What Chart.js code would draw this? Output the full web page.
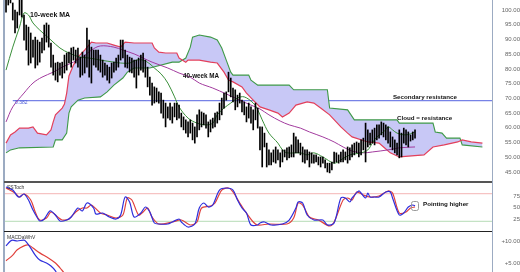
<!DOCTYPE html>
<html>
<head>
<meta charset="utf-8">
<script src="https://cdn.jsdelivr.net/npm/chart.js@4.4.1/dist/chart.umd.min.js"></script>
<style>
  html, body { margin: 0; padding: 0; background: #fff; }
  #wrap { position: relative; width: 520px; height: 272px; overflow: hidden; background: #fff; }
  .pane { position: absolute; left: 0; width: 520px; }
  .rule { position: absolute; }
</style>
</head>
<body>
<div id="wrap">
  <div class="pane" style="top:0;height:182px"><canvas id="price"></canvas></div>
  <div class="pane" style="top:183px;height:49px"><canvas id="stoch"></canvas></div>
  <div class="pane" style="top:233px;height:39px"><canvas id="macd"></canvas></div>
  <div class="rule" style="left:3px;top:0;width:2px;height:272px;background:#9cabc2"></div>
  <div class="rule" style="left:492px;top:0;width:1px;height:272px;background:#9cabc2"></div>
  <div class="rule" style="left:4px;top:181px;width:488px;height:2px;background:#555"></div>
  <div class="rule" style="left:4px;top:231px;width:488px;height:1px;background:#222"></div>
</div>
<script>
// weekly bars, week index 0 = first bar on the left
const barHigh = [
  106, 106, 106, 102.4, 100.0, 99.3, 106, 106, 98.3, 94.9,
  94.2, 92.2, 89.8, 90.8, 89.8, 89.1, 90.5, 94.9, 95.6, 94.9,
  88.8, 84.7, 82.0, 82.3, 82.0, 82.3, 84.7, 85.4, 85.7, 87.1,
  87.4, 86.4, 87.1, 84.0, 85.7, 84.7, 93.9, 89.8, 87.4, 86.4,
  86.4, 86.4, 84.7, 83.0, 82.0, 81.3, 80.6, 82.0, 82.3, 83.7,
  84.7, 89.8, 89.8, 86.4, 84.7, 84.0, 83.7, 83.0, 83.0, 83.7,
  84.7, 85.4, 83.0, 80.6, 77.2, 75.2, 73.9, 73.5, 72.2, 71.8,
  69.4, 68.4, 67.1, 68.4, 67.1, 68.4, 68.4, 67.7, 65.0, 63.7,
  62.7, 62.0, 62.7, 61.6, 60.3, 64.4, 66.1, 65.4, 65.0, 64.4,
  62.0, 62.7, 63.3, 65.0, 65.4, 68.4, 70.1, 71.8, 72.2, 78.9,
  76.9, 73.5, 72.9, 71.1, 71.8, 69.4, 68.8, 67.1, 68.4, 67.1,
  66.1, 68.4, 66.7,
  60.3, 60.3, 58.2, 54.8, 52.5, 51.5, 52.5, 53.5, 52.5, 51.5,
  52.5, 52.5, 53.2, 53.5, 54.2, 58.2, 56.9, 55.9, 54.8, 53.5,
  52.5, 52.5, 51.8, 51.5, 50.8, 50.8, 50.1, 50.1, 50.1, 49.1,
  48.0, 48.0, 48.4, 51.8, 51.5, 50.8, 51.8, 52.5, 51.8, 53.5,
  53.2, 54.2, 54.8, 55.2, 54.8, 55.9, 56.5, 61.6, 59.3, 58.2,
  59.3, 59.9, 61.0, 61.0, 62.0, 61.6, 61.0, 60.3, 58.6, 56.9,
  55.9, 54.8, 59.3, 58.2, 59.9, 59.3, 58.6, 57.6, 58.6, 59.3
];
const barLow = [
  99.3, 101.7, 102.4, 96.6, 92.2, 93.9, 98.3, 97.6, 89.8, 86.4,
  81.3, 82.0, 84.0, 80.3, 81.3, 82.3, 85.4, 86.4, 89.1, 87.4,
  80.6, 77.9, 76.2, 75.6, 77.9, 76.9, 78.6, 79.6, 82.0, 80.6,
  83.0, 82.0, 80.6, 77.2, 77.9, 78.6, 80.6, 77.2, 75.2, 81.3,
  80.6, 79.6, 78.9, 77.2, 77.9, 76.2, 75.2, 76.9, 78.9, 79.6,
  80.6, 83.0, 83.7, 80.6, 80.3, 78.9, 78.6, 77.2, 73.5, 77.9,
  79.6, 78.9, 77.2, 73.9, 71.1, 67.7, 68.4, 68.8, 68.4, 65.0,
  63.3, 60.3, 63.3, 62.7, 61.6, 63.7, 62.7, 63.3, 60.3, 59.3,
  58.2, 56.9, 58.2, 55.9, 54.8, 56.9, 59.3, 60.3, 61.0, 59.9,
  56.9, 58.6, 59.9, 60.3, 61.6, 62.7, 64.4, 66.7, 69.4, 72.2,
  70.5, 68.8, 66.1, 67.1, 68.4, 65.4, 64.4, 62.0, 63.3, 61.6,
  59.3, 62.7, 59.9,
  52.5, 46.7, 53.5, 46.7, 47.4, 47.4, 48.4, 48.0, 49.1, 46.7,
  48.4, 50.1, 49.1, 49.8, 50.1, 50.1, 51.5, 51.5, 50.8, 48.4,
  48.0, 49.1, 46.7, 48.0, 48.0, 48.4, 47.4, 46.7, 48.0, 46.4,
  45.0, 44.7, 45.7, 48.0, 48.4, 48.0, 48.4, 48.4, 49.1, 48.0,
  49.1, 50.1, 50.8, 51.5, 50.1, 50.8, 52.5, 48.4, 53.5, 54.2,
  54.8, 54.2, 55.9, 56.5, 57.6, 56.9, 55.9, 54.8, 53.5, 52.5,
  51.5, 50.8, 49.8, 50.1, 54.8, 54.2, 53.5, 55.5, 55.9, 56.5
];

// [week, value]
const ma10 = [[0,79.6],[3,87.4],[6,94.2],[8,99.0],[10,98.3],[12,95.6],[15,93.2],[20,89.8],[24,87.1],[28,85.4],[33,84.0],[37,83.7],[42,83.0],[48,82.3],[51,82.0],[55,82.0],[58,83.0],[61,83.0],[64,81.7],[66,80.3],[69,78.3],[72,75.2],[75,70.5],[77,67.1],[81,63.3],[85,61.6],[89,61.0],[92,61.6],[94,64.4],[97,66.7],[100,68.4],[103,70.1],[106,70.5],[110,68.4],[112,66.1],[114,62.7],[117,58.2],[121,54.8],[123,52.5],[125,51.5],[131,51.5],[134,50.8],[137,51.5],[141,50.1],[146,48.0],[149,49.1],[153,50.8],[158,51.5],[161,52.5],[163,54.8],[165,56.9],[168,58.6],[170,60.3],[172,59.3],[174,58.2],[178,57.6],[182,58.6]];
const ma40 = [[0,62.0],[3,67.1],[8,71.8],[12,75.2],[16,77.2],[21,78.9],[25,80.6],[30,82.3],[34,84.0],[38,86.4],[42,87.8],[48,87.4],[52,86.4],[57,85.1],[61,83.7],[65,82.3],[72,80.3],[77,78.6],[82,77.2],[86,75.2],[92,73.5],[98,71.5],[104,69.4],[109,67.7],[113,66.4],[117,64.4],[122,62.3],[126,61.0],[131,59.9],[135,58.6],[141,56.9],[146,55.2],[150,53.5],[154,52.1],[159,51.5],[163,51.8],[170,52.5],[175,53.2],[182,53.5]];
const spanA = [[0,54.8],[2,57.6],[4,58.6],[6,59.9],[10,59.9],[12,60.3],[14,58.2],[18,57.6],[20,59.3],[21,62.0],[22,64.4],[25,66.7],[26,68.1],[27,71.8],[28,77.6],[30,81.3],[32,84.0],[35,86.4],[38,89.1],[40,88.8],[45,88.8],[48,88.1],[51,87.4],[53,89.1],[57,88.8],[65,88.8],[66,87.1],[68,85.7],[71,85.4],[76,85.4],[77,83.7],[80,82.3],[81,83.0],[86,83.0],[91,82.3],[94,82.0],[97,78.9],[99,76.2],[101,75.6],[105,73.9],[107,71.8],[110,69.4],[113,67.1],[117,66.1],[121,65.0],[123,63.7],[126,65.0],[129,67.7],[134,68.8],[137,68.4],[140,66.7],[144,64.4],[149,60.3],[152,58.2],[154,56.9],[161,55.2],[166,54.8],[168,53.5],[171,51.5],[175,50.1],[186,50.8],[190,53.5],[195,54.2],[201,55.2],[203,55.9],[207,55.2],[212,54.8]];
const spanB = [[0,51.5],[2,52.5],[6,53.2],[21,53.5],[22,55.9],[25,55.9],[27,58.2],[28,65.0],[29,67.1],[32,69.4],[35,70.1],[42,70.5],[45,72.2],[48,74.5],[52,76.9],[54,78.9],[57,80.3],[64,80.3],[74,82.3],[77,82.3],[80,83.7],[82,87.4],[83,90.8],[86,91.5],[91,90.8],[94,89.8],[96,87.1],[98,83.0],[100,78.9],[101,77.9],[108,77.9],[109,76.2],[112,74.5],[126,74.5],[128,72.9],[143,72.9],[144,66.7],[152,66.1],[155,62.7],[174,62.7],[175,61.6],[190,61.6],[191,58.6],[194,58.2],[196,56.5],[202,56.5],[203,54.2],[212,53.5]];
const fibLevel = 69.2;
const fibStart = 3;

const stochK = [[0,94.6],[3,88],[5,75],[6,72.8],[8,79.3],[10,66.3],[12,44.6],[14,27.2],[15,20.7],[17,25],[19,40.2],[20,42.4],[22,33.7],[24,20.7],[27,22.8],[29,29.3],[32,48.9],[34,42.4],[36,59.8],[39,48.9],[40,35.9],[43,38],[46,29.3],[49,25],[51,33.7],[53,72.8],[55,62],[57,29.3],[60,38],[62,51.1],[64,40.2],[66,16.3],[68,14.1],[72,14.1],[74,18.5],[77,25],[78,18.5],[81,7.6],[84,14.1],[86,48.9],[88,59.8],[90,51.1],[92,55.4],[95,88],[98,92.4],[101,88],[103,66.3],[105,48.9],[107,38],[109,12],[112,12],[113,16.3],[115,18.5],[118,12],[123,14.1],[126,22.8],[129,48.9],[130,62],[132,59.8],[134,33.7],[137,22.8],[141,22.8],[143,12],[146,16.3],[149,70.7],[151,70.7],[153,62],[154,70.7],[157,85.9],[158,81.5],[160,70.7],[161,81.5],[162,72.8],[164,72.8],[166,72.8],[169,83.7],[171,83.7],[172,70.7],[175,33.7],[177,38],[179,51.1],[181,55.4],[182,53.3]];
const stochD = [[0,92.4],[4,81.5],[6,72.8],[8,79.3],[11,66.3],[13,40.2],[15,22.8],[18,27.2],[20,40.2],[23,29.3],[25,22.8],[28,25],[31,40.2],[34,48.9],[36,48.9],[38,55.4],[42,38],[45,33.7],[49,27.2],[52,33.7],[54,70.7],[56,66.3],[59,33.7],[61,40.2],[63,48.9],[65,29.3],[68,14.1],[74,18.5],[78,22.8],[82,12],[85,18.5],[87,48.9],[91,53.3],[93,59.8],[96,88],[99,92.4],[101,83.7],[104,59.8],[106,44.6],[110,18.5],[112,12],[117,14.1],[125,14.1],[128,27.2],[130,59.8],[132,55.4],[135,29.3],[139,22.8],[144,9.8],[146,18.5],[150,66.3],[152,70.7],[154,66.3],[156,83.7],[159,77.2],[162,72.8],[166,75],[170,85.9],[172,81.5],[175,38],[178,40.2],[180,48.9],[182,51.1]];
const stochBands = [80, 20];

const macdLine = [[0,8.9],[2,10],[3,10.2],[5,10],[8,10.2],[9,9.8],[11,8.4],[13,6.8],[15,5.7],[18,5.0],[20,4.3],[22,3.2],[23,2.0]];
const macdSignal = [[0,5.5],[3,6.8],[5,8.0],[8,8.9],[10,9.1],[12,8.4],[15,7.3],[19,6.1],[22,5.0],[24,3.9],[26,2.7],[28,2.0]];

const priceTicks = [45, 50, 55, 60, 65, 70, 75, 80, 85, 90, 95, 100];
const stochTicks = [25, 50, 75];
const macdTicks = [5, 10];

// visible week range of the panes
const X_MIN = -0.9, X_MAX = 216.7;

const pts = arr => arr.map(([x, y]) => ({ x, y }));
const bold = size => `bold ${size}px "Liberation Sans", Arial, sans-serif`;

function notes(items, extra) {
  return {
    id: 'notes',
    afterDraw(chart) {
      const { ctx, scales: { x, y } } = chart;
      ctx.save();
      if (extra) extra(chart, ctx);
      items.forEach(n => {
        ctx.font = n.font;
        ctx.fillStyle = n.color || '#111';
        ctx.textAlign = 'left';
        ctx.textBaseline = 'middle';
        ctx.fillText(n.text, x.getPixelForValue(n.x), y.getPixelForValue(n.y));
      });
      ctx.restore();
    }
  };
}

function paneLabel(text) {
  return (chart, ctx) => {
    ctx.font = '5px "Liberation Sans", Arial, sans-serif';
    ctx.fillStyle = '#333';
    ctx.textAlign = 'left';
    ctx.textBaseline = 'top';
    ctx.fillText(text, chart.chartArea.left + 3, chart.chartArea.top + 2);
  };
}

function options(yMin, yMax, ticks, pad, fmt) {
  return {
    responsive: true,
    maintainAspectRatio: false,
    animation: false,
    events: [],
    layout: { padding: { left: 4, right: 0, top: 0, bottom: 0 } },
    plugins: { legend: { display: false }, tooltip: { enabled: false } },
    elements: { point: { radius: 0 } },
    scales: {
      x: { type: 'linear', min: X_MIN, max: X_MAX, offset: false, display: false },
      y: {
        position: 'right', min: yMin, max: yMax,
        grid: { display: false, drawTicks: false },
        border: { display: false },
        afterBuildTicks: a => { a.ticks = ticks.map(v => ({ value: v })); },
        afterFit: a => { a.width = 27; a.paddingTop = 0; a.paddingBottom = 0; },
        ticks: {
          autoSkip: false, padding: pad, crossAlign: 'far', color: '#666',
          font: { family: '"Liberation Sans", Arial, sans-serif', size: 6 },
          callback: fmt
        }
      }
    }
  };
}

const line = (data, color, width, tension, extra) => Object.assign({
  type: 'line', data: pts(data), borderColor: color, borderWidth: width,
  tension, fill: false, pointRadius: 0, order: 1
}, extra || {});

new Chart(document.getElementById('price'), {
  type: 'bar',
  data: {
    datasets: [
      {
        type: 'bar', order: 0,
        data: barLow.map((lo, i) => ({ x: i, y: [lo, barHigh[i]] })),
        backgroundColor: '#000', borderWidth: 0, barThickness: 1, grouped: false
      },
      line(ma10, '#3a8f3a', 1, 0.35),
      line(ma40, '#a23b9e', 1, 0.35),
      line(spanA, '#e3405c', 1.2, 0, { order: 2 }),
      line(spanB, '#3f9a48', 1.1, 0, { order: 2, fill: 3, backgroundColor: '#c8c8f6' }),
      line([[fibStart, fibLevel], [X_MAX, fibLevel]], '#5563e0', 1, 0, { order: 3 })
    ]
  },
  options: options(41.6, 103.4, priceTicks, 4, v => v.toFixed(2)),
  plugins: [notes([
    { text: '10-week MA', x: 10.7, y: 98.3, font: bold(7) },
    { text: '40-week MA', x: 78.8, y: 77.6, font: bold(6.3) },
    { text: 'Secondary resistance', x: 172.2, y: 70.3, font: bold(6.2) },
    { text: 'Cloud = resistance', x: 174, y: 63.1, font: bold(6.2) },
    { text: '0.382', x: 4, y: 68.6, font: '5px "Liberation Sans", Arial, sans-serif', color: '#4a5ad8' }
  ])]
});

new Chart(document.getElementById('stoch'), {
  type: 'line',
  data: {
    datasets: [
      line([[X_MIN, stochBands[0]], [X_MAX, stochBands[0]]], '#f4b4b4', 1, 0, { order: 3 }),
      line([[X_MIN, stochBands[1]], [X_MAX, stochBands[1]]], '#b6dbb6', 1, 0, { order: 3 }),
      line(stochD, '#e0403c', 1.2, 0.3, { order: 1 }),
      line(stochK, '#2f2fdc', 1.2, 0.3, { order: 0 })
    ]
  },
  options: options(-3.26, 103.3, stochTicks, 8, v => String(v)),
  plugins: [notes([
    { text: 'Pointing higher', x: 185.6, y: 57.6, font: bold(6.2) }
  ], (chart, ctx) => {
    paneLabel('SSToch')(chart, ctx);
    const { x, y } = chart.scales;
    const cx = x.getPixelForValue(stochK[stochK.length - 1][0]);
    const cy = y.getPixelForValue(stochK[stochK.length - 1][1]);
    ctx.strokeStyle = '#999';
    ctx.lineWidth = 1;
    ctx.beginPath();
    ctx.roundRect(cx - 3.5, cy - 4.5, 7, 9, 2);
    ctx.stroke();
  })]
});

new Chart(document.getElementById('macd'), {
  type: 'line',
  data: {
    datasets: [
      line(macdSignal, '#e0403c', 1.2, 0.35),
      line(macdLine, '#2f2fdc', 1.2, 0.35, { order: 0 })
    ]
  },
  options: options(2.95, 11.82, macdTicks, 2, v => '+' + v.toFixed(2)),
  plugins: [notes([], paneLabel('MACDaWhV'))]
});
</script>
</body>
</html>
